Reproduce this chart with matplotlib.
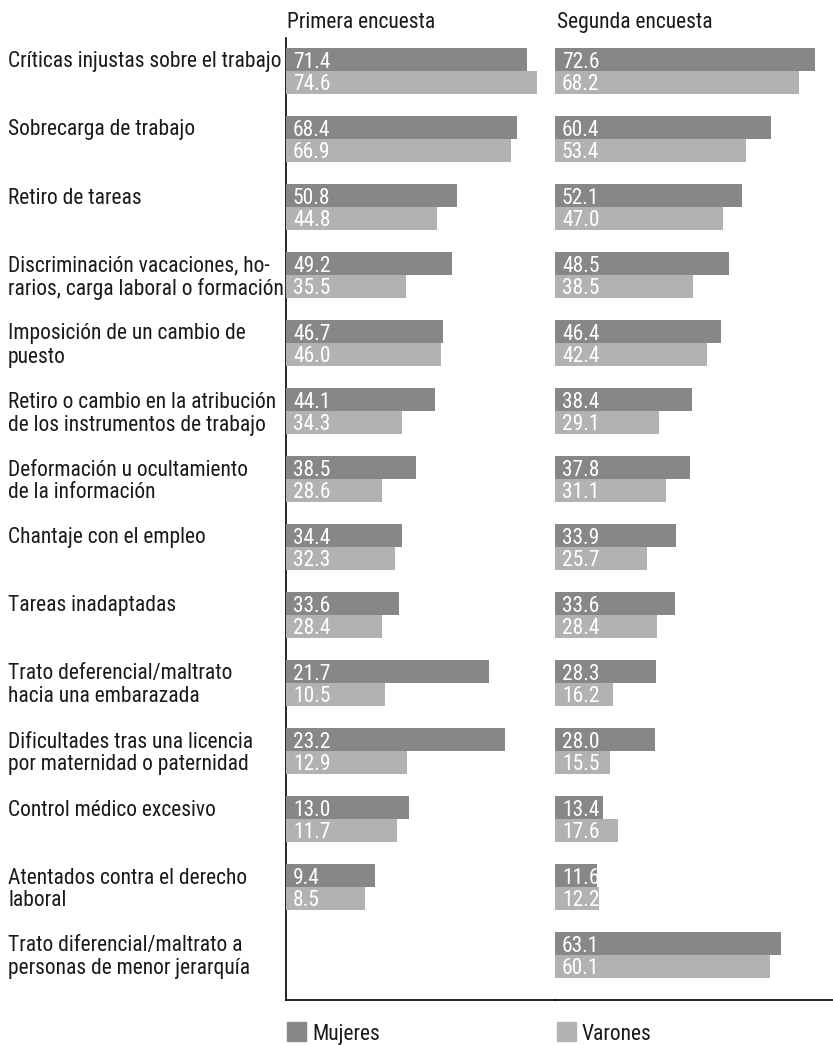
import os
import numpy as np
import matplotlib
matplotlib.use('Agg')
import matplotlib.pyplot as plt
import matplotlib.font_manager as fm
from matplotlib.transforms import blended_transform_factory

categorias = ['Críticas injustas sobre el trabajo',
              'Sobrecarga de trabajo',
              'Retiro de tareas',
              'Discriminación vacaciones, ho-\nrarios, carga laboral o formación',
              'Imposición de un cambio de\npuesto',
              'Retiro o cambio en la atribución\nde los instrumentos de trabajo',
              'Deformación u ocultamiento\nde la información',
              'Chantaje con el empleo',
              'Tareas inadaptadas',
              'Trato deferencial/maltrato\nhacia una embarazada',
              'Dificultades tras una licencia\npor maternidad o paternidad',
              'Control médico excesivo',
              'Atentados contra el derecho\nlaboral',
              'Trato diferencial/maltrato a\npersonas de menor jerarquía']

# values printed on the bars
primera_mujeres = [71.4, 68.4, 50.8, 49.2, 46.7, 44.1, 38.5, 34.4, 33.6, 21.7, 23.2, 13.0, 9.4]
primera_varones = [74.6, 66.9, 44.8, 35.5, 46.0, 34.3, 28.6, 32.3, 28.4, 10.5, 12.9, 11.7, 8.5]
segunda_mujeres = [72.6, 60.4, 52.1, 48.5, 46.4, 38.4, 37.8, 33.9, 33.6, 28.3, 28.0, 13.4, 11.6, 63.1]
segunda_varones = [68.2, 53.4, 47.0, 38.5, 42.4, 29.1, 31.1, 25.7, 28.4, 16.2, 15.5, 17.6, 12.2, 60.1]

# bar lengths as drawn in the first panel (last rows do not match their labels)
primera_mujeres_barra = [71.4, 68.4, 50.8, 49.2, 46.7, 44.1, 38.5, 34.4, 33.6, 60.2, 65.0, 36.5, 26.4]
primera_varones_barra = [74.6, 66.9, 44.8, 35.5, 46.0, 34.3, 28.6, 32.3, 28.4, 29.4, 35.9, 32.9, 23.4]

titulos = ['Primera encuesta', 'Segunda encuesta']
leyenda = ['Mujeres', 'Varones']

oscuro = '#878787'
claro = '#b2b2b3'
texto = '#1a1a1a'

# look for a condensed face on the system
archivos = list(fm.findSystemFonts()) + [f.fname for f in fm.fontManager.ttflist]
preferidos = ['RobotoCondensed-Regular', 'LiberationSansNarrow-Regular', 'DejaVuSansCondensed.ttf',
              'NotoSans-Condensed.ttf', 'NotoSans-CondensedRegular', 'OpenSans_Condensed-Regular',
              'OpenSansCondensed']
ruta = None
for p in preferidos:
    for a in archivos:
        if p.lower() in os.path.basename(a).lower():
            ruta = a
            break
    if ruta:
        break

fs = 15.5
if ruta:
    fp = fm.FontProperties(fname=ruta, size=fs)
else:
    fp = fm.FontProperties(family='DejaVu Sans', size=12)

W, H = 833, 1045
fig = plt.figure(figsize=(W / 100, H / 100), dpi=100)

top_px, bot_px = 38, 1000
row_px = 68
c0 = 71
ylim = ((bot_px - c0) / row_px, (top_px - c0) / row_px)
bh = 23 / row_px

def panel(left_px, right_px, escala):
    ax = fig.add_axes([left_px / W, 1 - bot_px / H, (right_px - left_px) / W, (bot_px - top_px) / H])
    ax.set_xlim(0, (right_px - left_px) / escala)
    ax.set_ylim(*ylim)
    ax.set_xticks([])
    ax.set_yticks([])
    for s in ['top', 'right']:
        ax.spines[s].set_visible(False)
    ax.spines['bottom'].set_linewidth(1.2)
    ax.spines['left'].set_linewidth(1.2)
    ax.patch.set_alpha(0)
    return ax

ax1 = panel(286, 555, 3.37)
ax2 = panel(555, 833, 3.58)
ax2.spines['left'].set_visible(False)

def dibujar(ax, muj, var, muj_len, var_len):
    y = np.arange(len(muj))
    ax.barh(y - bh / 2, muj_len, height=bh, color=oscuro, zorder=3)
    ax.barh(y + bh / 2, var_len, height=bh, color=claro, zorder=3)
    for i in range(len(muj)):
        ax.annotate('%.1f' % muj[i], xy=(0, y[i] - bh / 2), xytext=(5, 0), textcoords='offset points',
                    color='white', fontproperties=fp, va='center_baseline', ha='left', zorder=4)
        ax.annotate('%.1f' % var[i], xy=(0, y[i] + bh / 2), xytext=(5, 0), textcoords='offset points',
                    color='white', fontproperties=fp, va='center_baseline', ha='left', zorder=4)

dibujar(ax1, primera_mujeres, primera_varones, primera_mujeres_barra, primera_varones_barra)
dibujar(ax2, segunda_mujeres, segunda_varones, segunda_mujeres, segunda_varones)

# titles
fig.text(287 / W, 1 - 20 / H, titulos[0], fontproperties=fp, color=texto, va='center_baseline', ha='left')
fig.text(557 / W, 1 - 20 / H, titulos[1], fontproperties=fp, color=texto, va='center_baseline', ha='left')

# category labels, one line per bar
tr = blended_transform_factory(fig.transFigure, ax1.transData)
for i, cat in enumerate(categorias):
    for j, linea in enumerate(cat.split('\n')):
        ax1.text(8 / W, i - bh / 2 + j * bh, linea, transform=tr, fontproperties=fp, color=texto,
                 va='center_baseline', ha='left', clip_on=False)

# legend
for k, (x0, col) in enumerate([(287, oscuro), (557, claro)]):
    fig.patches.append(plt.Rectangle((x0 / W, 1 - 1041 / H), 19 / W, 19 / H, transform=fig.transFigure,
                                     color=col, figure=fig))
    fig.text((x0 + 25) / W, 1 - 1032 / H, leyenda[k], fontproperties=fp, color=texto,
             va='center_baseline', ha='left')

fig.savefig('out.png', dpi=100, facecolor='white')
